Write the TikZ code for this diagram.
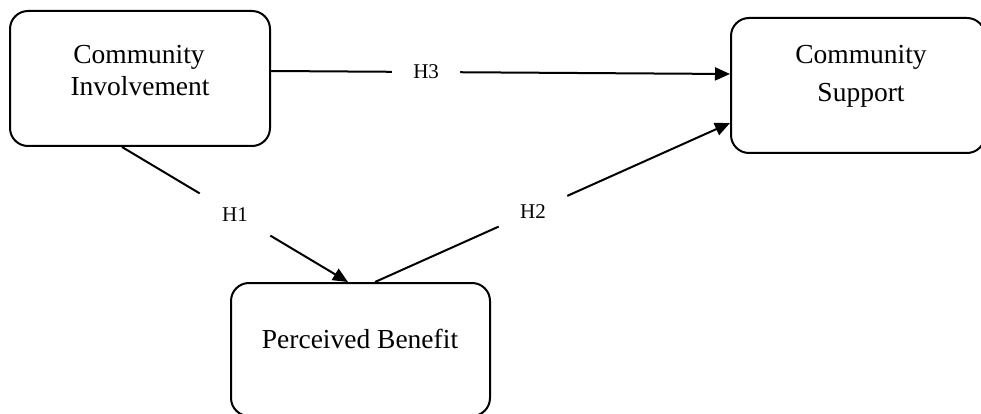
\documentclass[tikz,border=0pt]{standalone}
\usepackage{fontspec}
\setmainfont{Liberation Serif}
\usetikzlibrary{arrows.meta,calc}
\begin{document}
\begin{tikzpicture}[x=1pt,y=-1pt,
  box/.style={draw,line width=2pt,rounded corners=18pt,inner sep=0pt},
  boxtext/.style={font=\fontsize{27.5}{33}\selectfont,anchor=base,inner sep=0pt},
  hyp/.style={font=\fontsize{21}{25}\selectfont,circle,fill=white,inner sep=0pt},
  conn/.style={line width=2pt,-{Triangle[length=15pt,width=13pt]}}]
\useasboundingbox (0,0) rectangle (981,414);
% boxes
\node[box,minimum width=260pt,minimum height=135pt] (ci) at (140,78.5) {};
\node[box,minimum width=254pt,minimum height=135pt] (cs) at (858,85.5) {};
\node[box,minimum width=259pt,minimum height=133pt] (pb) at (360.5,349.5) {};
% texts
\node[boxtext] (ci1) at (139,64) {Community};
\node[boxtext] (ci2) at (140,95.5) {Involvement};
\node[boxtext] (cs1) at (861,64) {Community};
\node[boxtext] (cs2) at (861,101.5) {Support};
\node[boxtext] (pb1) at (360,348) {Perceived Benefit};
% connectors
\draw[conn] ([yshift=7.5pt]ci.east) -- node[hyp,minimum size=68pt,pos=0.338] (h3) {H3} ([yshift=11.5pt]cs.west);
\draw[conn] ([xshift=-18pt]ci.south) -- node[hyp,minimum size=82pt,pos=0.5] (h1) {H1} ([xshift=-12.5pt]pb.north);
\draw[conn] ([xshift=14.5pt]pb.north) -- node[hyp,minimum size=75pt,pos=0.445] (h2) {H2} ([yshift=-37.5pt]cs.west);
\end{tikzpicture}
\end{document}
